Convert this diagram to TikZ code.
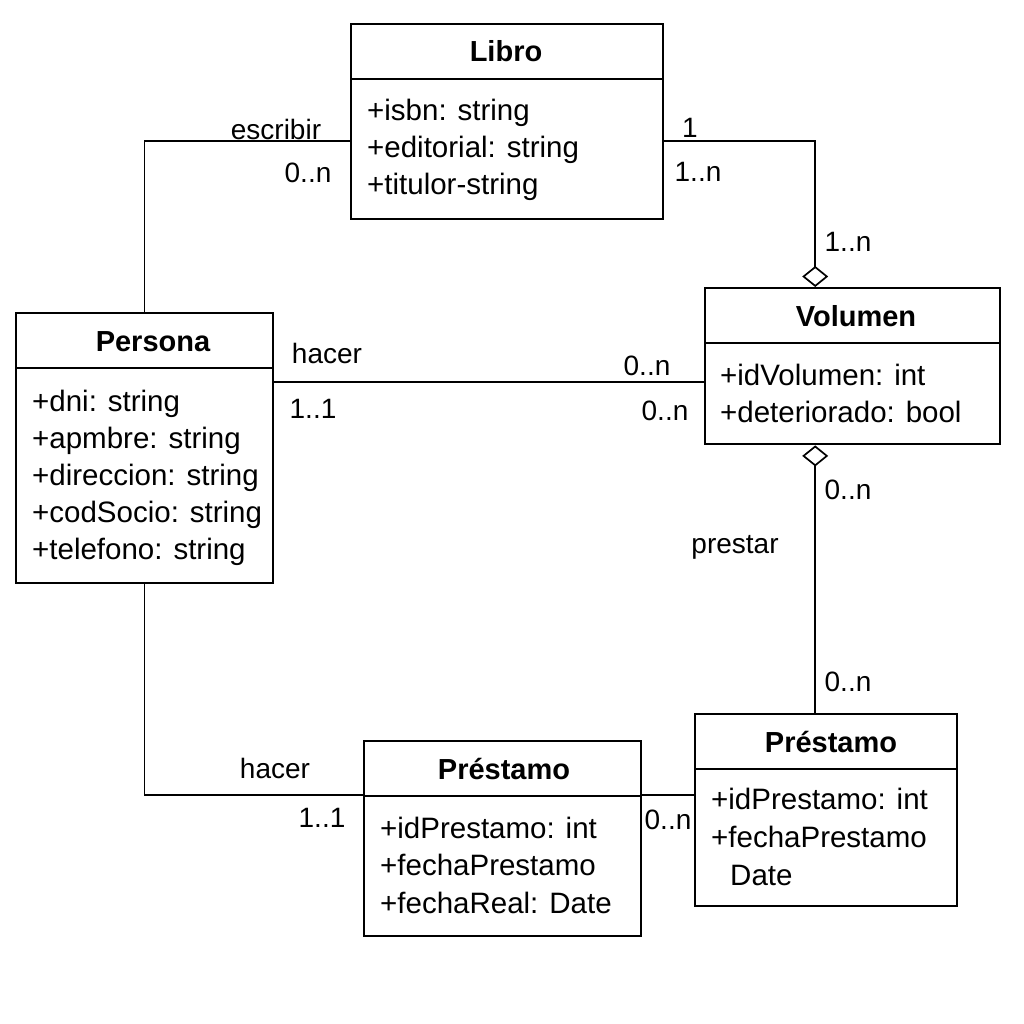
\documentclass[tikz,border=0pt]{standalone}
\usepackage{fontspec}
\setmainfont{Liberation Sans}
\usetikzlibrary{arrows.meta}
\tikzset{
  classbox/.style={draw, line width=2.4pt, anchor=north west, inner sep=0pt},
  hdr/.style={line width=2.2pt},
  ctitle/.style={font=\fontsize{29}{34}\selectfont\bfseries, anchor=base, inner sep=0pt},
  attr/.style={font=\fontsize{29.5}{34}\selectfont, anchor=base west, inner sep=0pt},
  lbl/.style={font=\fontsize{28}{32}\selectfont, inner sep=0pt},
  conn/.style={line width=1.5pt},
  agg/.style={line width=1.7pt, line join=miter}
}
\begin{document}
\begin{tikzpicture}[x=1pt, y=-1pt]
\useasboundingbox[fill=white] (0,0) rectangle (1024,1024);

% Libro
\node[classbox, minimum width=312pt, minimum height=195pt] (libro) at (350,23) {};
\draw[hdr] ([yshift=-56pt]libro.north west) -- ([yshift=-56pt]libro.north east);
\node[ctitle] (libroT) at (506,62) {Libro};
\node[attr] (libroA1) at (367,121) {+isbn: string};
\node[attr] (libroA2) at (367,158) {+editorial: string};
\node[attr] (libroA3) at (367,195) {+titulor-string};

% Persona
\node[classbox, minimum width=257pt, minimum height=270pt] (persona) at (15,312) {};
\draw[hdr] ([yshift=-56pt]persona.north west) -- ([yshift=-56pt]persona.north east);
\node[ctitle] (personaT) at (153,351) {Persona};
\node[attr] (personaA1) at (32,411) {+dni: string};
\node[attr] (personaA2) at (32,448) {+apmbre: string};
\node[attr] (personaA3) at (32,485) {+direccion: string};
\node[attr] (personaA4) at (32,522) {+codSocio: string};
\node[attr] (personaA5) at (32,559) {+telefono: string};

% Volumen
\node[classbox, minimum width=295pt, minimum height=156pt] (volumen) at (704,287) {};
\draw[hdr] ([yshift=-56pt]volumen.north west) -- ([yshift=-56pt]volumen.north east);
\node[ctitle] (volumenT) at (856,326) {Volumen};
\node[attr] (volumenA1) at (720,385) {+idVolumen: int};
\node[attr] (volumenA2) at (720,422) {+deteriorado: bool};

% Prestamo (left)
\node[classbox, minimum width=277pt, minimum height=195pt] (prestA) at (363,740) {};
\draw[hdr] ([yshift=-56pt]prestA.north west) -- ([yshift=-56pt]prestA.north east);
\node[ctitle] (prestAT) at (504,779) {Préstamo};
\node[attr] (prestAA1) at (380,838) {+idPrestamo: int};
\node[attr] (prestAA2) at (380,875) {+fechaPrestamo};
\node[attr] (prestAA3) at (380,913) {+fechaReal: Date};

% Prestamo (right)
\node[classbox, minimum width=262pt, minimum height=192pt] (prestB) at (694,713) {};
\draw[hdr] ([yshift=-56pt]prestB.north west) -- ([yshift=-56pt]prestB.north east);
\node[ctitle] (prestBT) at (831,752) {Préstamo};
\node[attr] (prestBA1) at (711,809) {+idPrestamo: int};
\node[attr] (prestBA2) at (711,847) {+fechaPrestamo};
\node[attr] (prestBA3) at (730,885) {Date};

% Connectors
\draw[conn] (persona.north) |- ([yshift=-19.5pt]libro.west);
\draw[agg, -{Diamond[open, length=21pt, width=26pt]}] ([yshift=-19.5pt]libro.east) -| ([xshift=-37.5pt]volumen.north);
\draw[conn] ([yshift=66pt]persona.east) -- ([yshift=-16pt]volumen.west);
\draw[agg, {Diamond[open, length=21pt, width=26pt]}-] ([xshift=-37.5pt]volumen.south) -- ([xshift=-11pt]prestB.north);
\draw[conn] (persona.south) |- ([yshift=43.5pt]prestA.west);
\draw[conn] ([yshift=43.5pt]prestA.east) -- ([yshift=15pt]prestB.west);

% Labels
\node[lbl] (l1) at (276,129) {escribir};
\node[lbl] (l2) at (308,173) {0..n};
\node[lbl] (l3) at (690,128) {1};
\node[lbl] (l4) at (698,172) {1..n};
\node[lbl] (l5) at (848,242) {1..n};
\node[lbl] (l6) at (327,353) {hacer};
\node[lbl] (l7) at (313,409) {1..1};
\node[lbl] (l8) at (647,366) {0..n};
\node[lbl] (l9) at (665,411) {0..n};
\node[lbl] (l10) at (848,490) {0..n};
\node[lbl] (l11) at (735,547) {prestar};
\node[lbl] (l12) at (848,682) {0..n};
\node[lbl] (l13) at (275,768) {hacer};
\node[lbl] (l14) at (322,818) {1..1};
\node[lbl] (l15) at (668,820) {0..n};
\end{tikzpicture}
\end{document}
